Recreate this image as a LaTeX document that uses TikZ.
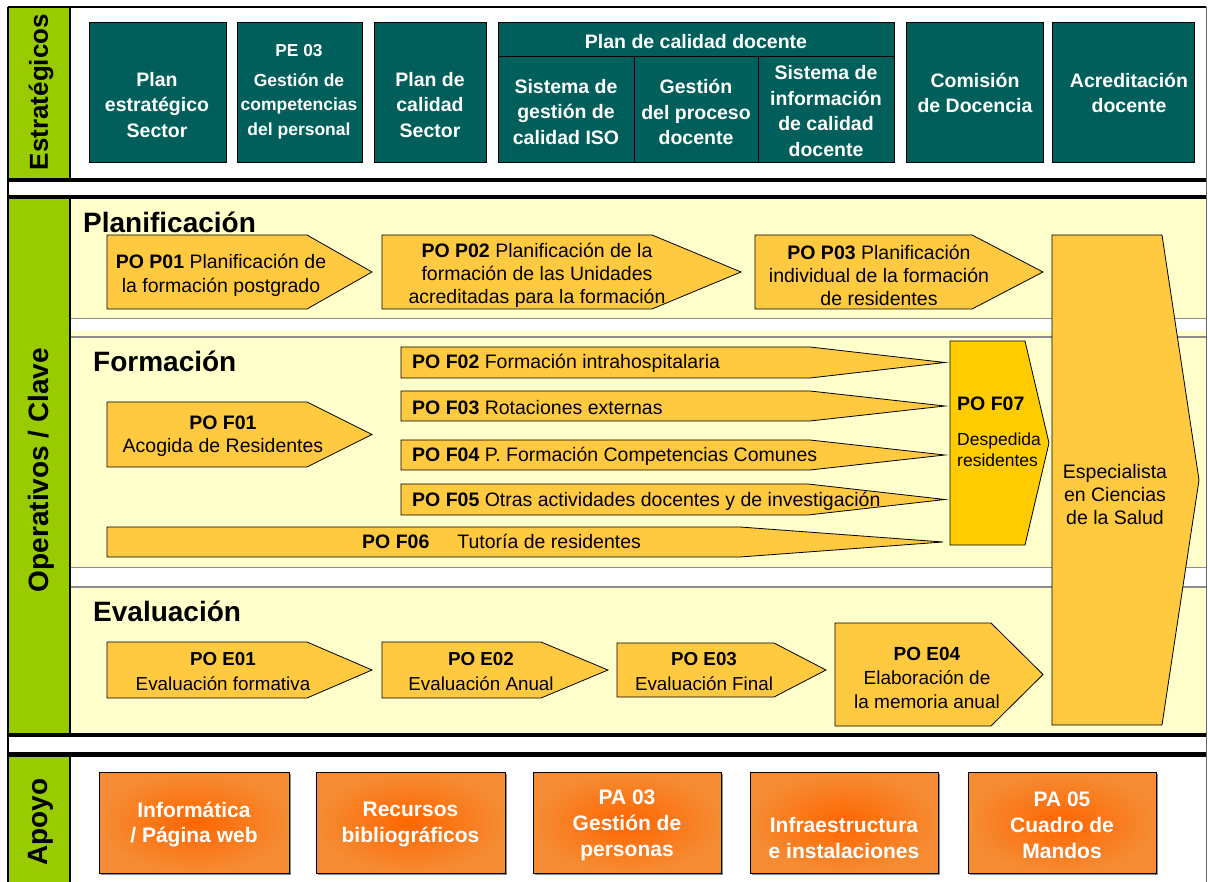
\documentclass[tikz,border=0pt]{standalone}
\usepackage{fontspec}
\setmainfont{Liberation Sans}
\definecolor{teal1}{HTML}{005F5A}
\definecolor{green1}{HTML}{99CC00}
\definecolor{yellow1}{HTML}{FFFFCC}
\definecolor{gold1}{HTML}{FFCA40}
\definecolor{gold2}{HTML}{FFCC00}
\definecolor{orange1}{HTML}{FF6600}
\definecolor{orange2}{HTML}{F58C34}
\newcommand{\penta}[6][arrw]{\draw[#1] (#2,#3) -- (#4,#3) -- (#5,{(#3+#6)/2}) -- (#4,#6) -- (#2,#6) -- cycle;}
\tikzset{
 sbox/.style={draw=black, line width=0.8pt, fill=teal1},
 stxt/.style={text=white, font=\bfseries\fontsize{19.5}{25.5}\selectfont, align=center, inner sep=0pt},
 arrw/.style={draw=black, line width=0.8pt, fill=gold1},
 ptxt/.style={font=\fontsize{19.5}{23.5}\selectfont, align=center, inner sep=0pt},
 etxt/.style={font=\fontsize{18.8}{25}\selectfont, align=center, inner sep=0pt},
 ttl/.style={font=\bfseries\fontsize{28}{30}\selectfont, anchor=base west, inner sep=0pt},
 vlab/.style={font=\bfseries\fontsize{28}{30}\selectfont, rotate=90, inner sep=0pt},
 obox/.style={inner color=orange1, outer color=orange2, draw=black, line width=0.6pt},
 oshadow/.style={fill=black!45},
 otxt/.style={text=white, font=\bfseries\fontsize{21}{25.5}\selectfont, align=center, inner sep=0pt},
 gline/.style={draw=black!45, line width=1.2pt},
}
\begin{document}
\begin{tikzpicture}[x=1pt,y=-1pt]
\useasboundingbox (0,0) rectangle (1208,882);
\fill[white] (0,0) rectangle (1208,882);
% ---------- bands ----------
\fill[green1] (8,7) rectangle (70,180);
\draw[line width=1.2pt] (70,7) -- (70,180);
\draw[line width=1.5pt] (8,7) -- (1206,7);
\draw[line width=4pt] (8,180) -- (1206,180);
\draw[line width=4pt] (8,197.5) -- (1206,197.5);
\fill[yellow1] (70,199.5) rectangle (1206,733);
\fill[green1] (8,199.5) rectangle (70,733);
\draw[line width=1.2pt] (70,199.5) -- (70,733);
\fill[white] (71,319) rectangle (1206,331);
\draw[gline] (71,318.5) -- (1206,318.5);
\draw[gline] (71,337) -- (1206,337);
\fill[white] (71,568) rectangle (1206,586);
\draw[gline] (71,567.5) -- (1206,567.5);
\draw[gline] (71,587) -- (1206,587);
\draw[line width=4pt] (8,735) -- (1206,735);
\draw[line width=5pt] (8,754.5) -- (1206,754.5);
\fill[green1] (8,757) rectangle (70,882);
\draw[line width=1.2pt] (70,757) -- (70,882);
\draw[line width=1.5pt] (8,7) -- (8,882);
\draw[line width=1pt, black!60] (1206.5,7) -- (1206.5,882);
% ---------- side labels ----------
\node[vlab, font=\bfseries\fontsize{26}{28}\selectfont] (labE) at (41,92) {Estratégicos};
\node[vlab] (labO) at (41,470) {Operativos / Clave};
\node[vlab] (labA) at (41,822) {Apoyo};
% ---------- strategic ----------
\draw[sbox] (89,22) rectangle (226,162);
\draw[sbox] (237,22) rectangle (362,162);
\draw[sbox] (374,22) rectangle (486,162);
\draw[sbox] (498,22) rectangle (894,162);
\draw[line width=0.8pt] (498,56) -- (894,56);
\draw[line width=0.8pt] (634,56) -- (634,162);
\draw[line width=0.8pt] (758,56) -- (758,162);
\draw[sbox] (906,22) rectangle (1043,162);
\draw[sbox] (1052,22) rectangle (1194,162);
\node[stxt] (s1) at (157,105) {Plan\\estratégico\\Sector};
\node[stxt, font=\bfseries\fontsize{17.3}{20}\selectfont] (s2a) at (299,51) {PE 03};
\node[stxt, font=\bfseries\fontsize{17.5}{24.5}\selectfont] (s2) at (299,106) {Gestión de\\competencias\\del personal};
\node[stxt] (s3) at (430,105) {Plan de\\calidad\\Sector};
\node[stxt] (s4) at (696,42) {Plan de calidad docente};
\node[stxt] (s5) at (566,112) {Sistema de\\gestión de\\calidad ISO};
\node[stxt] (s6) at (696,112) {Gestión\\del proceso\\docente};
\node[stxt] (s7) at (826,111) {Sistema de\\información\\de calidad\\docente};
\node[stxt] (s8) at (975,93) {Comisión\\de Docencia};
\node[stxt] (s9) at (1129,93) {Acreditación\\docente};
% ---------- operativos shapes ----------
\penta{107}{235}{307}{372}{309}
\penta{382}{235}{652}{741}{309}
\penta{755}{235}{972}{1043}{309}
\penta{107}{402}{307}{372}{467}
\penta{401}{347}{810}{945}{378}
\penta{401}{391}{810}{945}{421}
\penta{401}{440}{810}{945}{470}
\penta{401}{484}{808}{945}{515}
\penta{107}{527}{740}{943}{557}
\penta[arrw,fill=gold2]{950}{341}{1025}{1049}{545}
\penta{107}{642}{307}{372}{698}
\penta{382}{642}{541}{608}{698}
\penta{617}{643}{774}{826}{697}
\penta{835}{623}{991}{1043}{726}
\penta{1052}{235}{1162}{1199}{725}
% ---------- titles ----------
\node[ttl] (t1) at (83,233) {Planificación};
\node[ttl] (t2) at (93,372) {Formación};
\node[ttl] (t3) at (93,621) {Evaluación};
% ---------- process texts ----------
\node[ptxt, font=\fontsize{19.5}{24}\selectfont] (p1) at (221,275) {\textbf{PO P01} Planificación de\\la formación postgrado};
\node[ptxt, font=\fontsize{19.5}{23}\selectfont] (p2) at (537,275) {\textbf{PO P02} Planificación de la\\formación de las Unidades\\acreditadas para la formación};
\node[ptxt, font=\fontsize{19.5}{23}\selectfont] (p3) at (879,275) {\textbf{PO P03} Planificación\\individual de la formación\\de residentes};
\node[ptxt] (f1) at (223,436) {\textbf{PO F01}\\Acogida de Residentes};
\node[ptxt, anchor=west] (f2) at (412,363) {\textbf{PO F02} Formación intrahospitalaria};
\node[ptxt, anchor=west] (f3) at (412,408) {\textbf{PO F03} Rotaciones externas};
\node[ptxt, anchor=west] (f4) at (412,456) {\textbf{PO F04} P. Formación Competencias Comunes};
\node[ptxt, anchor=west] (f5) at (412,501) {\textbf{PO F05} Otras actividades docentes y de investigación};
\node[ptxt, anchor=west] (f6) at (362,541) {\textbf{PO F06}\hspace{28pt}Tutoría de residentes};
\node[ptxt, anchor=west] (f7a) at (957,404) {\textbf{PO F07}};
\node[ptxt, anchor=west, align=left, font=\fontsize{17.5}{21}\selectfont] (f7b) at (957,450) {Despedida\\residentes};
\node[ptxt, font=\fontsize{19.5}{23}\selectfont] (esp) at (1115,495) {Especialista\\en Ciencias\\de la Salud};
\node[etxt] (e1) at (223,672) {\textbf{PO E01}\\Evaluación formativa};
\node[etxt] (e2) at (481,672) {\textbf{PO E02}\\Evaluación Anual};
\node[etxt] (e3) at (704,672) {\textbf{PO E03}\\Evaluación Final};
\node[etxt, font=\fontsize{19}{24}\selectfont] (e4) at (927,678) {\textbf{PO E04}\\Elaboración de\\la memoria anual};
% ---------- apoyo ----------
\foreach \xa/\xb in {99/289,316/505,533/721,750/938,968/1156}{
  \fill[oshadow] (\xa+2,774) rectangle (\xb+2,875);
  \draw[obox] (\xa,772) rectangle (\xb,873);
}
\node[otxt] (a1) at (194,824.5) {Informática\\/ Página web};
\node[otxt] (a2) at (410.5,824.5) {Recursos\\bibliográficos};
\node[otxt, font=\bfseries\fontsize{21}{26}\selectfont] (a3) at (627,825) {PA 03\\Gestión de\\personas};
\node[otxt, font=\bfseries\fontsize{21}{26}\selectfont] (a4) at (844,838) {Infraestructura\\e instalaciones};
\node[otxt, font=\bfseries\fontsize{21}{26}\selectfont] (a5) at (1062,825) {PA 05\\Cuadro de\\Mandos};
\end{tikzpicture}
\end{document}
